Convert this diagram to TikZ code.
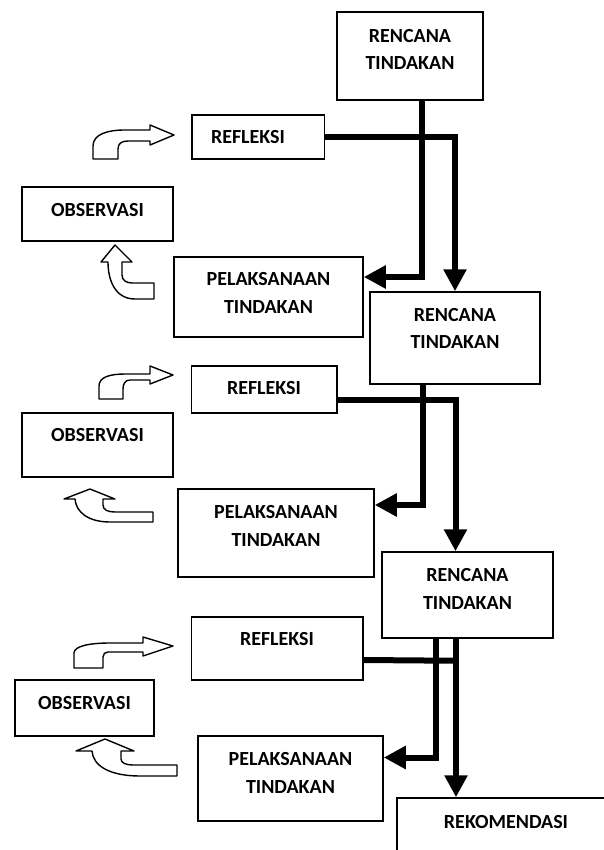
\documentclass[tikz,border=0pt]{standalone}
\usepackage{fontspec}
\setmainfont{Carlito}
\usepackage{tikz}
\usetikzlibrary{arrows.meta}

\begin{document}
\begin{tikzpicture}[x=1pt,y=-1pt,
            box/.style={draw,fill=white,line width=1.5pt,inner sep=0pt},
            txt/.style={align=center,inner sep=0pt,font=\fontsize{20}{27.5}\selectfont\bfseries},
            flow/.style={line width=6pt},
            bendarrow/.style={draw,fill=white,line width=1.4pt,line join=round},
            >={Triangle[length=22pt,width=22pt]}]
            \useasboundingbox (0,0) rectangle (603,850);
            \node[box,minimum width=146,minimum height=88] (ren1) at (410,56){};
            \node[box,minimum width=132.5,minimum height=44] (ref1) at (258,137){};
            \node[box,minimum width=151,minimum height=54] (obs1) at (97.5,214){};
            \node[box,minimum width=189,minimum height=80] (pel1) at (268.5,297){};
            \node[box,minimum width=170,minimum height=92] (ren2) at (455,338){};
            \node[box,minimum width=145.5,minimum height=47] (ref2) at (264,389.5){};
            \node[box,minimum width=151,minimum height=64] (obs2) at (97.5,445){};
            \node[box,minimum width=196,minimum height=88] (pel2) at (276,533){};
            \node[box,minimum width=171,minimum height=86] (ren3) at (467.5,595){};
            \node[box,minimum width=171.5,minimum height=63] (ref3) at (277,648.5){};
            \node[box,minimum width=139,minimum height=56] (obs3) at (84.5,708){};
            \node[box,minimum width=185,minimum height=85] (pel3) at (290.5,778.5){};
            \node[box,minimum width=218,minimum height=60] (rek) at (506,828){};
            \node[txt] (ren1t) at ([yshift=6.5]ren1.center) {RENCANA\\TINDAKAN};
            \node[txt] (ref1t) at ([xshift=-10]ref1.center) {REFLEKSI};
            \node[txt] (obs1t) at ([yshift=4]obs1.center) {OBSERVASI};
            \node[txt] (pel1t) at ([yshift=4]pel1.center) {PELAKSANAAN\\TINDAKAN};
            \node[txt] (ren2t) at ([yshift=9.5]ren2.center) {RENCANA\\TINDAKAN};
            \node[txt] (ref2t) at ([yshift=1.5]ref2.center) {REFLEKSI};
            \node[txt] (obs2t) at ([yshift=10]obs2.center) {OBSERVASI};
            \node[txt] (pel2t) at ([yshift=7]pel2.center) {PELAKSANAAN\\TINDAKAN};
            \node[txt] (ren3t) at ([yshift=6]ren3.center) {RENCANA\\TINDAKAN};
            \node[txt] (ref3t) at ([yshift=9.5]ref3.center) {REFLEKSI};
            \node[txt] (obs3t) at ([yshift=5]obs3.center) {OBSERVASI};
            \node[txt] (pel3t) at ([yshift=5.5]pel3.center) {PELAKSANAAN\\TINDAKAN};
            \node[txt] (rekt) at ([yshift=6]rek.center) {REKOMENDASI};
            \draw[flow,->] ([xshift=12]ren1.south) |- ([yshift=20]pel1.east);
            \draw[flow,->] (ref1.east) -| (ren2.north);
            \draw[flow,->] ([xshift=-32]ren2.south) |- ([yshift=28]pel2.east);
            \draw[flow,->] ([yshift=-10]ref2.east) -| ([xshift=-12]ren3.north);
            \draw[flow,->] ([xshift=-31.5]ren3.south) |- ([yshift=21]pel3.east);
            \draw[flow,->] ([xshift=-11.5]ren3.south) -- ([xshift=-50]rek.north);
            \draw[flow] ([yshift=-11.5]ref3.east) -- ([xshift=-11.5,yshift=-22]ren3.south);
            \draw[bendarrow] (93,159) -- (93,146) .. controls (93,134) and (108,130) .. (125,130) -- (150,130) -- (150,125) -- (174,135) -- (150,145) -- (150,141) -- (128,141) .. controls (121,141) and (118,144) .. (118,149) -- (118,159) -- cycle;
            \draw[bendarrow] (99,399) -- (99,386) .. controls (99,377) and (110,374) .. (125,374) -- (150,374) -- (150,366) -- (173,375) -- (150,384) -- (150,380) -- (130,380) .. controls (125,380) and (123,384) .. (123,389) -- (123,399) -- cycle;
            \draw[bendarrow] (74,668) -- (74,653) .. controls (74,646) and (90,643) .. (110,643) -- (143,643) -- (143,637) -- (173,646) -- (143,656) -- (143,652) -- (108,652) .. controls (105,652) and (103,654) .. (103,657) -- (103,668) -- cycle;
            \draw[bendarrow] (115,245) -- (132,262) -- (122,262) -- (122,275) .. controls (122,280) and (126,283) .. (132,283) -- (154,283) -- (154,299) -- (135,299) .. controls (115,299) and (108,280) .. (108,262) -- (101,262) -- cycle;
            \draw[bendarrow] (90,489) -- (115,499) -- (103,499) -- (103,505) .. controls (103,510) and (108,512) .. (115,512) -- (153,512) -- (153,522) -- (110,522) .. controls (88,522) and (76,512) .. (75,499) -- (64,499) -- cycle;
            \draw[bendarrow] (105,739) -- (134,751) -- (121,751) -- (121,759) .. controls (121,763) and (126,765) .. (133,765) -- (177,765) -- (177,776) -- (140,776) .. controls (110,776) and (93,766) .. (92,751) -- (76,751) -- cycle;
\end{tikzpicture}
\end{document}
